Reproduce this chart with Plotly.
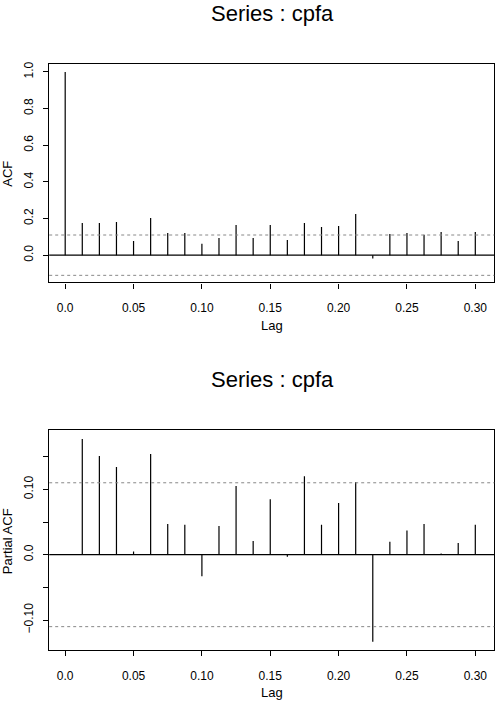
import plotly.graph_objects as go

# lags (frequency 80 -> step 0.0125)
lags = [i / 80 for i in range(25)]
acf_vals = [1.0, 0.176, 0.176, 0.181, 0.078, 0.203, 0.121, 0.121, 0.062, 0.094, 0.165, 0.094,
            0.165, 0.083, 0.176, 0.154, 0.159, 0.225, -0.018, 0.116, 0.121, 0.112, 0.127, 0.078, 0.127]
pacf_lags = lags[1:]
pacf_vals = [0.177, 0.151, 0.134, 0.005, 0.154, 0.047, 0.046, -0.033, 0.044, 0.105, 0.021,
             0.085, -0.003, 0.120, 0.046, 0.079, 0.111, -0.133, 0.020, 0.037, 0.047, 0.002, 0.018, 0.046]
ci = 0.110

x_ticks = [0.0, 0.05, 0.10, 0.15, 0.20, 0.25, 0.30]
x_labels = ['0.0', '0.05', '0.10', '0.15', '0.20', '0.25', '0.30']
acf_ticks = [0.0, 0.2, 0.4, 0.6, 0.8, 1.0]
acf_labels = ['0.0', '0.2', '0.4', '0.6', '0.8', '1.0']
pacf_ticks = [-0.10, -0.05, 0.0, 0.05, 0.10, 0.15]
pacf_labels = ['\u22120.10', '', '0.0', '', '0.10', '']

FONT = 'Liberation Sans'


def spikes(xs, ys):
  sx, sy = [], []
  for x, y in zip(xs, ys):
    sx += [x, x, None]
    sy += [0, y, None]
  return sx, sy


fig = go.Figure()
sx, sy = spikes(lags, acf_vals)
fig.add_trace(go.Scatter(x=sx, y=sy, mode='lines', line=dict(color='black', width=1.2),
                         xaxis='x', yaxis='y', showlegend=False, hoverinfo='skip'))
sx, sy = spikes(pacf_lags, pacf_vals)
fig.add_trace(go.Scatter(x=sx, y=sy, mode='lines', line=dict(color='black', width=1.2),
                         xaxis='x2', yaxis='y2', showlegend=False, hoverinfo='skip'))

shapes = []
for xr, yr in [('x', 'y'), ('x2', 'y2')]:
  shapes.append(dict(type='line', xref=xr + ' domain', yref=yr, x0=0, x1=1, y0=0, y1=0,
                     line=dict(color='black', width=1.2)))
  for v in (ci, -ci):
    shapes.append(dict(type='line', xref=xr + ' domain', yref=yr, x0=0, x1=1, y0=v, y1=v,
                       line=dict(color='#888888', width=1, dash='dot')))

axis_common = dict(showline=True, mirror=True, linecolor='black', linewidth=1.4,
                   ticks='outside', ticklen=5, tickcolor='black', tickwidth=1,
                   showgrid=False, zeroline=False,
                   tickfont=dict(family=FONT, size=12, color='black'))

fig.update_layout(
  width=496, height=701,
  margin=dict(l=0, r=0, t=0, b=0),
  plot_bgcolor='white', paper_bgcolor='white',
  shapes=shapes,
  xaxis=dict(domain=[0.0994, 0.9986], range=[-0.0117, 0.3139], tickvals=x_ticks, ticktext=x_labels,
             anchor='y', ticklabelstandoff=9, **axis_common),
  yaxis=dict(domain=[0.5996, 0.9126], range=[-0.149, 1.043], tickvals=acf_ticks, ticktext=acf_labels,
             tickangle=-90, anchor='x', ticklabelstandoff=5, **axis_common),
  xaxis2=dict(domain=[0.0994, 0.9986], range=[-0.0117, 0.3139], tickvals=x_ticks, ticktext=x_labels,
              anchor='y2', ticklabelstandoff=9, **axis_common),
  yaxis2=dict(domain=[0.0728, 0.3876], range=[-0.146, 0.190], tickvals=pacf_ticks, ticktext=pacf_labels,
              tickangle=-90, anchor='x2', ticklabelstandoff=5, **axis_common),
)

ann = []
for ytitle in (1 - 11 / 701, 1 - 378 / 701):
  ann.append(dict(text='Series : cpfa', x=0.55, y=ytitle, xref='paper', yref='paper',
                  xanchor='center', yanchor='middle', showarrow=False,
                  font=dict(family=FONT, size=22, color='black')))
for ylag in (1 - 324 / 701, 1 - 692 / 701):
  ann.append(dict(text='Lag', x=0.55, y=ylag, xref='paper', yref='paper',
                  xanchor='center', yanchor='middle', showarrow=False,
                  font=dict(family=FONT, size=13, color='black')))
ann.append(dict(text='ACF', x=7.5 / 496, y=1 - 171 / 701, xref='paper', yref='paper', textangle=-90,
                xanchor='center', yanchor='middle', showarrow=False,
                font=dict(family=FONT, size=13, color='black')))
ann.append(dict(text='Partial ACF', x=7.5 / 496, y=1 - 540 / 701, xref='paper', yref='paper', textangle=-90,
                xanchor='center', yanchor='middle', showarrow=False,
                font=dict(family=FONT, size=13, color='black')))
fig.update_layout(annotations=ann)

# page body has a default 8px margin; drop it so the figure fills the window
fig.write_html("out.html", config={'displayModeBar': False},
               post_script="document.body.style.margin='0px';")
